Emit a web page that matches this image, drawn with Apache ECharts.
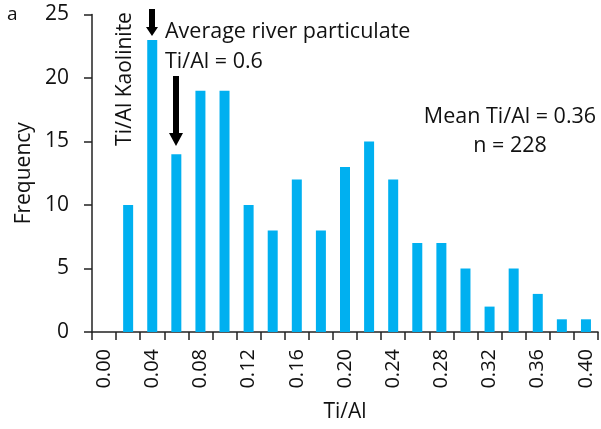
<!DOCTYPE html>
<html><head><meta charset="utf-8">
<script src="https://cdn.jsdelivr.net/npm/echarts@6/dist/echarts.min.js"></script>
<style>html,body{margin:0;padding:0;background:#fff}#c{width:601px;height:429px}</style>
</head><body><div id="c"></div>
<script>
const categories = ["0.00","0.02","0.04","0.06","0.08","0.10","0.12","0.14","0.16","0.18","0.20","0.22","0.24","0.26","0.28","0.30","0.32","0.34","0.36","0.38","0.40"];
const frequency = [null,10,23,14,19,19,10,8,12,8,13,15,12,7,7,5,2,5,3,1,1];
const yTicks = {min:0,max:25,interval:5};
const FONT = "Open Sans";
const TXT = '#111';
const chart = echarts.init(document.getElementById('c'));
chart.setOption({
  animation:false,
  grid:{left:92,right:3,top:14.5,bottom:97,containLabel:false,outerBoundsMode:'none'},
  xAxis:{type:'category',data:categories,boundaryGap:true,
    name:'Ti/Al',nameLocation:'middle',nameGap:70,
    nameTextStyle:{fontFamily:FONT,fontSize:21,color:TXT},
    axisLine:{lineStyle:{color:'#222',width:1.5}},
    axisTick:{show:true,interval:0,length:8,inside:false,lineStyle:{color:'#222',width:1.5}},
    axisLabel:{interval:1,rotate:90,fontFamily:FONT,fontSize:20,color:TXT,margin:17}
  },
  yAxis:{type:'value',min:yTicks.min,max:yTicks.max,interval:yTicks.interval,
    name:'Frequency',nameLocation:'middle',nameGap:51,
    nameTextStyle:{fontFamily:FONT,fontSize:21,color:TXT},
    axisLine:{show:true,lineStyle:{color:'#222',width:1.5}},
    axisTick:{show:true,length:8,lineStyle:{color:'#222',width:1.5}},
    splitLine:{show:false},
    axisLabel:{fontFamily:FONT,fontSize:21,color:TXT,margin:23}
  },
  series:[{type:'bar',data:frequency,barWidth:10,itemStyle:{color:'#00B0F0'}}],
  graphic:[
    {type:'text',left:7,top:5,style:{text:'a',font:'19px '+FONT,fill:TXT}},
    {type:'text',x:125,y:79,rotation:Math.PI/2,style:{text:'Ti/Al Kaolinite',font:'21px '+FONT,fill:TXT,align:'center',verticalAlign:'middle'}},
    {type:'polygon',shape:{points:[[149,9],[155,9],[155,27],[158,27],[152,36],[146,27],[149,27]]},style:{fill:'#000'}},
    {type:'polygon',shape:{points:[[173,76],[179,76],[179,133],[183,133],[176,146],[169,133],[173,133]]},style:{fill:'#000'}},
    {type:'text',x:165,y:32,style:{text:'Average river particulate',font:'21.5px '+FONT,fill:TXT,verticalAlign:'middle'}},
    {type:'text',x:165,y:62,style:{text:'Ti/Al = 0.6',font:'21.5px '+FONT,fill:TXT,verticalAlign:'middle'}},
    {type:'text',x:510,y:117,style:{text:'Mean Ti/Al = 0.36',font:'21.5px '+FONT,fill:TXT,align:'center',verticalAlign:'middle'}},
    {type:'text',x:510,y:146,style:{text:'n = 228',font:'21.5px '+FONT,fill:TXT,align:'center',verticalAlign:'middle'}}
  ]
});
</script></body></html>
